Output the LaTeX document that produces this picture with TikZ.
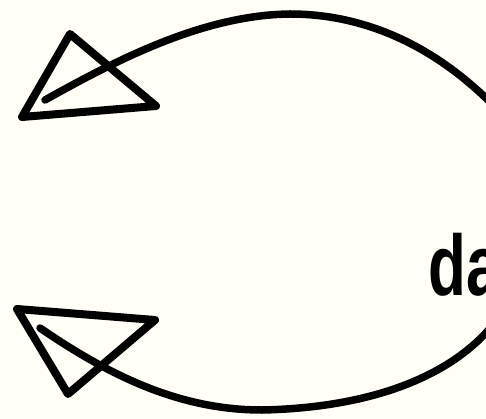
\documentclass[tikz,border=0pt]{standalone}
\usepackage{fontspec}
\setmainfont{Liberation Sans}
\definecolor{paper}{HTML}{FFFEF7}
\begin{document}
\begin{tikzpicture}[x=1pt,y=-1pt,
  brush/.style={line width=7.5pt, line cap=round, line join=round, black},
  tip/.style={line width=8pt, line join=round, line cap=round, black},
  word/.style={anchor=base west, inner sep=0pt, font=\bfseries\fontsize{86}{86}\selectfont}]
\useasboundingbox (0,0) rectangle (486,419);
\fill[paper] (0,0) rectangle (486,419);
\clip (0,0) rectangle (486,419);
% top arrow
\draw[brush] (492,104) .. controls (430,42) and (360,14) .. (290,14)
  .. controls (205,15) and (120,58) .. (45,100);
\draw[tip] (70,34) -- (156,106) -- (22,117) -- cycle;
% bottom arrow
\draw[brush] (40,328) .. controls (110,376) and (180,410) .. (262,410)
  .. controls (360,408) and (445,382) .. (492,326);
\draw[tip] (17,309) -- (155,320) -- (68,394) -- cycle;
% text
\node[word] (da) at (428,295) {\scalebox{0.72}[1]{da}};
\end{tikzpicture}
\end{document}
